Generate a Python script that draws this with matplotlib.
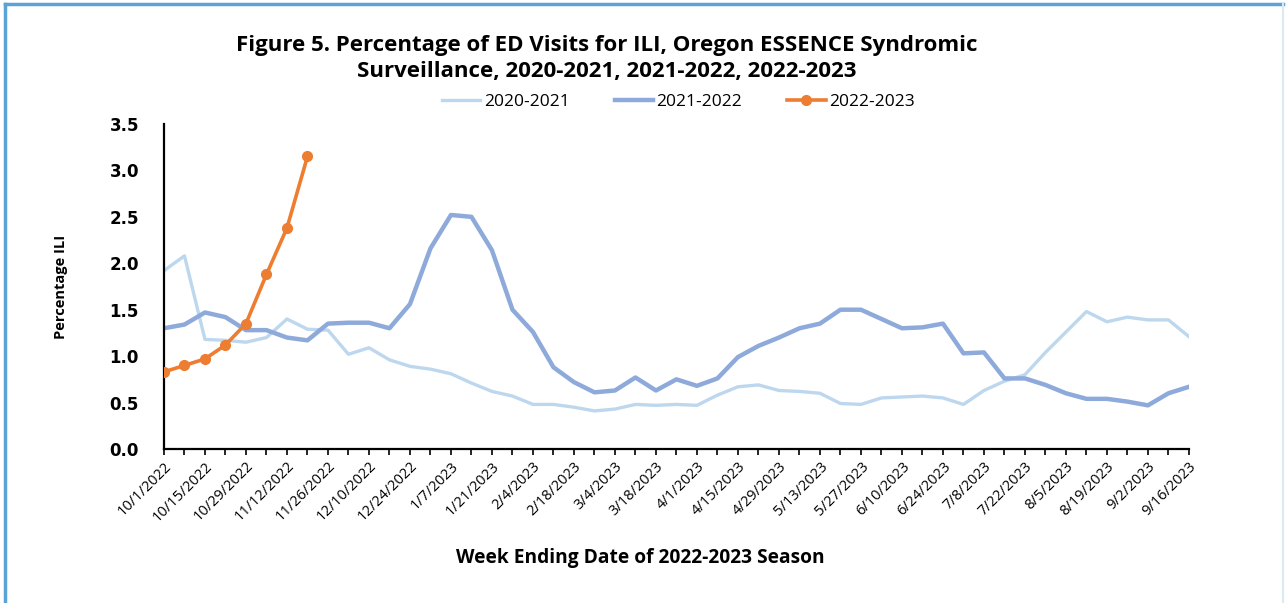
import matplotlib
matplotlib.use("Agg")
import matplotlib.pyplot as plt
import numpy as np
from matplotlib.lines import Line2D

# weekly values, week ending 10/1/2022 ... 9/16/2023 (51 weeks)
season_2020_21 = [1.92, 2.08, 1.18, 1.17, 1.15, 1.20, 1.40, 1.29, 1.28, 1.02,
                  1.09, 0.96, 0.89, 0.86, 0.81, 0.71, 0.62, 0.57, 0.48, 0.48,
                  0.45, 0.41, 0.43, 0.48, 0.47, 0.48, 0.47, 0.58, 0.67, 0.69,
                  0.63, 0.62, 0.60, 0.49, 0.48, 0.55, 0.56, 0.57, 0.55, 0.48,
                  0.63, 0.73, 0.80, 1.04, 1.26, 1.48, 1.37, 1.42, 1.39, 1.39,
                  1.21]
season_2021_22 = [1.30, 1.34, 1.47, 1.42, 1.28, 1.28, 1.20, 1.17, 1.35, 1.36,
                  1.36, 1.30, 1.56, 2.16, 2.52, 2.50, 2.14, 1.50, 1.26, 0.88,
                  0.72, 0.61, 0.63, 0.77, 0.63, 0.75, 0.68, 0.76, 0.99, 1.11,
                  1.20, 1.30, 1.35, 1.50, 1.50, 1.40, 1.30, 1.31, 1.35, 1.03,
                  1.04, 0.76, 0.76, 0.69, 0.60, 0.54, 0.54, 0.51, 0.47, 0.60,
                  0.67]
season_2022_23 = [0.83, 0.90, 0.97, 1.12, 1.35, 1.88, 2.38, 3.15]

# every other week gets a label
tick_labels = ["10/1/2022", "10/15/2022", "10/29/2022", "11/12/2022",
               "11/26/2022", "12/10/2022", "12/24/2022", "1/7/2023",
               "1/21/2023", "2/4/2023", "2/18/2023", "3/4/2023", "3/18/2023",
               "4/1/2023", "4/15/2023", "4/29/2023", "5/13/2023", "5/27/2023",
               "6/10/2023", "6/24/2023", "7/8/2023", "7/22/2023", "8/5/2023",
               "8/19/2023", "9/2/2023", "9/16/2023"]

C_2020 = "#bdd7ee"
C_2021 = "#8eaadb"
C_2022 = "#ed7d31"
SANS = ["Open Sans", "DejaVu Sans"]

fig = plt.figure(figsize=(12.88, 6.03), dpi=100)
ax = fig.add_axes([0.1273, 0.2554, 0.7958, 0.539])

x_all = np.arange(len(season_2020_21))
ax.plot(x_all, season_2020_21, color=C_2020, lw=2.4, label="2020-2021",
        solid_joinstyle="round")
ax.plot(np.arange(len(season_2021_22)), season_2021_22, color=C_2021, lw=3.2,
        label="2021-2022", solid_joinstyle="round")
ax.plot(np.arange(len(season_2022_23)), season_2022_23, color=C_2022, lw=2.6,
        marker="o", ms=7, label="2022-2023", zorder=5)

ax.set_xlim(0, len(x_all) - 1)
ax.set_ylim(0, 3.5)
ax.set_xticks(x_all, minor=True)
ax.set_xticks(x_all[::2])
ax.set_xticklabels(tick_labels, rotation=45, ha="right",
                   rotation_mode="anchor", fontsize=10.5, family=SANS)
ax.tick_params(axis="x", which="both", length=4, width=1.2, direction="out",
               pad=3)
ax.set_yticks(np.arange(0, 3.51, 0.5))
ax.set_yticklabels([f"{v:.1f}" for v in np.arange(0, 3.51, 0.5)],
                   fontsize=12, fontweight="bold", family="DejaVu Sans")
ax.tick_params(axis="y", length=0, pad=18)

for s in ("top", "right"):
    ax.spines[s].set_visible(False)
for s in ("left", "bottom"):
    ax.spines[s].set_linewidth(1.6)

ax.set_ylabel("Percentage ILI", fontsize=10.5, fontweight="bold",
              family=SANS, labelpad=30)
ax.set_xlabel("Week Ending Date of 2022-2023 Season", fontsize=13.8,
              fontweight="bold", family=SANS)
ax.xaxis.set_label_coords(0.465, -0.305)

fig.text(0.471, 0.903, "Figure 5. Percentage of ED Visits for ILI, Oregon ESSENCE Syndromic\n"
         "Surveillance, 2020-2021, 2021-2022, 2022-2023",
         ha="center", va="center", fontsize=16, fontweight="bold",
         family=SANS, linespacing=1.32)

ax.legend(loc="center", bbox_to_anchor=(0.502, 1.067), ncol=3, frameon=False,
          prop={"family": SANS, "size": 12.5}, handlelength=2.2,
          columnspacing=2.6, handletextpad=0.2)

# blue frame around the figure (no bottom edge)
frame_kw = dict(color="#5ba3d6", lw=2.5, transform=fig.transFigure)
fig.add_artist(Line2D([0.004, 0.004], [0.0, 0.994], **frame_kw))
fig.add_artist(Line2D([0.004, 0.996], [0.994, 0.994], **frame_kw))
fig.add_artist(Line2D([0.996, 0.996], [0.0, 0.994], color="#dbe9f5", lw=1.5,
                      transform=fig.transFigure))

fig.savefig("out.png", dpi=100)
